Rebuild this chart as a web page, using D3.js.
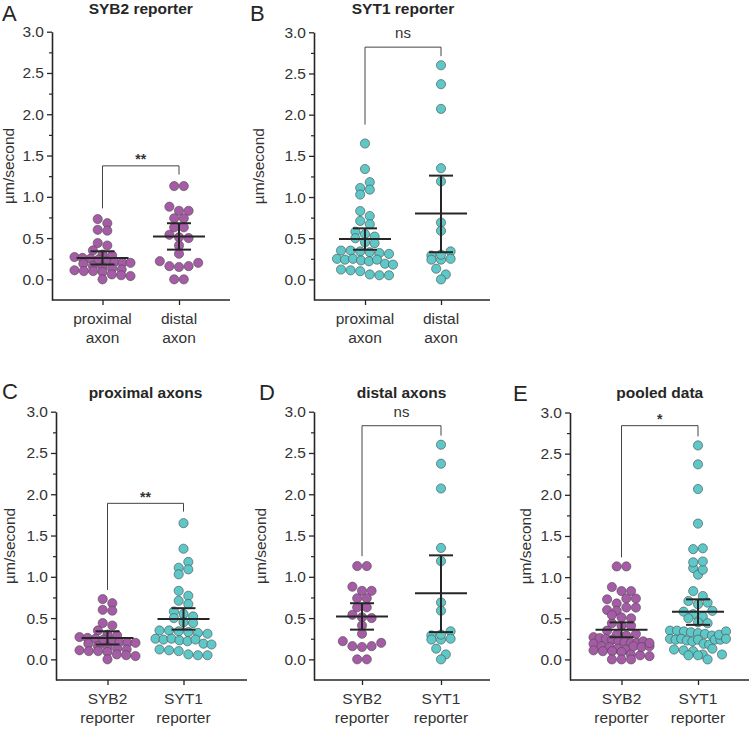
<!DOCTYPE html>
<html>
<head>
<meta charset="utf-8">
<script src="https://cdn.jsdelivr.net/npm/d3@7"></script>
<style>
  html, body { margin: 0; padding: 0; background: #fff; }
  svg { display: block; font-family: "Liberation Sans", Arial, Helvetica, sans-serif; }
</style>
</head>
<body>
<svg id="chart" width="749" height="729"></svg>
<script>
// ---------------- data (µm/second) ----------------
const proxSYB2 = [0.73, 0.68, 0.60, 0.59, 0.44, 0.41, 0.35, 0.30, 0.29, 0.27, 0.26, 0.25,
                  0.24, 0.22, 0.21, 0.20, 0.20, 0.19, 0.16, 0.15, 0.13, 0.12, 0.11, 0.10,
                  0.10, 0.09, 0.06, 0.05, 0.04, 0.00];
const distSYB2 = [1.13, 1.13, 0.88, 0.83, 0.83, 0.74, 0.74, 0.63, 0.63, 0.54, 0.51, 0.50,
                  0.41, 0.31, 0.22, 0.16, 0.15, 0.16, 0.20, 0.00, 0.00];
const proxSYT1 = [1.65, 1.34, 1.11, 1.18, 1.03, 1.09, 0.83, 0.77, 0.71, 0.67, 0.58, 0.55,
                  0.52, 0.50, 0.45, 0.44, 0.35, 0.35, 0.34, 0.33, 0.32, 0.31, 0.25, 0.24,
                  0.25, 0.23, 0.22, 0.24, 0.19, 0.18, 0.12, 0.11, 0.10, 0.06, 0.05, 0.05];
const distSYT1 = [2.60, 2.37, 2.07, 1.35, 1.19, 0.69, 0.59, 0.29, 0.24, 0.24, 0.30, 0.34,
                  0.25, 0.13, 0.06, 0.00];
const pooledSYB2 = proxSYB2.concat(distSYB2);
const pooledSYT1 = proxSYT1.concat(distSYT1);

// mean, lower CI, upper CI
const statsProxSYB2 = [0.26, 0.18, 0.34];
const statsDistSYB2 = [0.52, 0.36, 0.68];
const statsProxSYT1 = [0.49, 0.36, 0.62];
const statsDistSYT1 = [0.80, 0.33, 1.26];
const statsPooledSYB2 = [0.36, 0.27, 0.45];
const statsPooledSYT1 = [0.58, 0.42, 0.73];

// significance brackets: [bar level, left leg end, right leg end]
const bracketA = [1.375, 0.86, 1.27];
const bracketB = [2.82, 1.88, 2.71];
const bracketC = [1.89, 0.84, 1.79];
const bracketD = [2.83, 1.25, 2.71];
const bracketE = [2.84, 1.24, 2.71];

const yTicks = [0.0, 0.5, 1.0, 1.5, 2.0, 2.5, 3.0];
const yMinorTicks = [0.25, 0.75, 1.25, 1.75, 2.25, 2.75];
const yDomain = [-0.25, 3.0];

const catsAxon = ["proximal\naxon", "distal\naxon"];
const catsReporter = ["SYB2\nreporter", "SYT1\nreporter"];

const colSYB2 = "#a65ba6";
const colSYT1 = "#5ec7c7";

// ---------------- layout ----------------
const panels = [
  { letter: "A", title: "SYB2 reporter", cats: catsAxon, data: [proxSYB2, distSYB2],
    stats: [statsProxSYB2, statsDistSYB2], colors: [colSYB2, colSYB2], bracket: bracketA, sig: "**",
    left: 52, right: 230, top: 31.7, bottom: 300, cx: [102.5, 179], letterX: 2, letterY: 21,
    titleY: 14, ylabX: 14 },
  { letter: "B", title: "SYT1 reporter", cats: catsAxon, data: [proxSYT1, distSYT1],
    stats: [statsProxSYT1, statsDistSYT1], colors: [colSYT1, colSYT1], bracket: bracketB, sig: "ns",
    left: 314, right: 490, top: 32.3, bottom: 300, cx: [365, 441], letterX: 250, letterY: 21,
    titleY: 14, ylabX: 264 },
  { letter: "C", title: "proximal axons", cats: catsReporter, data: [proxSYB2, proxSYT1],
    stats: [statsProxSYB2, statsProxSYT1], colors: [colSYB2, colSYT1], bracket: bracketC, sig: "**",
    left: 56, right: 247, top: 411.7, bottom: 680, cx: [107.5, 183.5], letterX: 2, letterY: 399,
    titleY: 398, ylabX: 15 },
  { letter: "D", title: "distal axons", cats: catsReporter, data: [distSYB2, distSYT1],
    stats: [statsDistSYB2, statsDistSYT1], colors: [colSYB2, colSYT1], bracket: bracketD, sig: "ns",
    left: 314, right: 490, top: 411.7, bottom: 680, cx: [362, 441], letterX: 259, letterY: 400,
    titleY: 398, ylabX: 266 },
  { letter: "E", title: "pooled data", cats: catsReporter, data: [pooledSYB2, pooledSYT1],
    stats: [statsPooledSYB2, statsPooledSYT1], colors: [colSYB2, colSYT1], bracket: bracketE, sig: "*",
    left: 570, right: 760, top: 412.5, bottom: 680, cx: [621.5, 698], letterX: 513, letterY: 401,
    titleY: 398, ylabX: 531 }
];

const R = 4.6;       // symbol radius
const BIN = 6;       // row height in px for the scatter layout
const STEP = 9.6;    // horizontal spacing of symbols within a row
const MAXHALF = 28;  // widest half-width of a row
const INK = "#262626";

// Prism-like scatter: points that fall in the same row are spread side by side, centred
function rowLayout(ys) {
  const order = ys.map((y, i) => i).sort((a, b) => ys[a] - ys[b] || a - b);
  const xs = new Array(ys.length).fill(0);
  let k = 0;
  while (k < order.length) {
    const start = ys[order[k]];
    const row = [];
    while (k < order.length && ys[order[k]] - start < BIN) { row.push(order[k]); k++; }
    row.sort((a, b) => a - b);
    const step = row.length > 1 ? Math.min(STEP, 2 * MAXHALF / (row.length - 1)) : 0;
    row.forEach((idx, j) => { xs[idx] = (j - (row.length - 1) / 2) * step; });
  }
  return xs;
}

const svg = d3.select("#chart");

panels.forEach(p => {
  const g = svg.append("g");
  const y = d3.scaleLinear().domain(yDomain).range([p.bottom, p.top]);
  const x = d3.scalePoint().domain(p.cats).range(p.cx);

  // panel letter
  g.append("text").attr("x", p.letterX).attr("y", p.letterY)
    .attr("font-size", 22).attr("fill", INK).text(p.letter);
  // title
  g.append("text").attr("x", (p.cx[0] + p.cx[1]) / 2).attr("y", p.titleY)
    .attr("text-anchor", "middle").attr("font-size", 15.5).attr("font-weight", "bold")
    .attr("fill", INK).text(p.title);

  // y axis
  const yAxis = g.append("g").attr("transform", `translate(${p.left},0)`)
    .call(d3.axisLeft(y).tickValues(yTicks).tickFormat(d3.format(".1f"))
      .tickSize(5).tickSizeOuter(0).tickPadding(3));
  yAxis.selectAll("text").attr("font-size", 15.5).attr("fill", "#333").attr("font-family", null);
  yAxis.selectAll("line").attr("stroke", INK).attr("stroke-width", 1.3);
  yAxis.select(".domain").attr("stroke", INK).attr("stroke-width", 1.6);
  g.append("g").attr("transform", `translate(${p.left},0)`)
    .call(d3.axisLeft(y).tickValues(yMinorTicks).tickFormat("").tickSize(3).tickSizeOuter(0))
    .call(a => a.select(".domain").remove())
    .selectAll("line").attr("stroke", INK).attr("stroke-width", 1.2);

  // y label
  g.append("text")
    .attr("transform", `translate(${p.ylabX},${(p.top + p.bottom) / 2}) rotate(-90)`)
    .attr("text-anchor", "middle").attr("font-size", 15.5).attr("fill", "#333")
    .text("µm/second");

  // x axis
  const xAxis = g.append("g").attr("transform", `translate(0,${p.bottom})`)
    .call(d3.axisBottom(x).tickSize(5).tickSizeOuter(0).tickFormat(""));
  xAxis.select(".domain").remove();
  xAxis.selectAll("line").attr("stroke", INK).attr("stroke-width", 1.3);
  g.append("line").attr("x1", p.left).attr("x2", p.right)
    .attr("y1", p.bottom).attr("y2", p.bottom)
    .attr("stroke", INK).attr("stroke-width", 1.6);
  p.cats.forEach(c => {
    const lines = c.split("\n");
    const t = g.append("text").attr("x", x(c)).attr("y", p.bottom + 24)
      .attr("text-anchor", "middle").attr("font-size", 15.5).attr("fill", "#333");
    lines.forEach((ln, i) => t.append("tspan").attr("x", x(c)).attr("dy", i === 0 ? 0 : 19).text(ln));
  });

  // points
  p.data.forEach((vals, gi) => {
    const cx = x(p.cats[gi]);
    const ys = vals.map(v => y(v));
    const xs = rowLayout(ys);
    g.append("g").selectAll("circle").data(vals).join("circle")
      .attr("cx", (d, i) => cx + xs[i]).attr("cy", d => y(d)).attr("r", R)
      .attr("fill", p.colors[gi]).attr("stroke", "#4a4a4a").attr("stroke-width", 0.6);
  });

  // mean and CI
  p.stats.forEach((s, gi) => {
    const cx = x(p.cats[gi]);
    const sg = g.append("g").attr("stroke", INK).attr("stroke-width", 2);
    sg.append("line").attr("x1", cx - 26).attr("x2", cx + 26).attr("y1", y(s[0])).attr("y2", y(s[0]));
    sg.append("line").attr("x1", cx).attr("x2", cx).attr("y1", y(s[1])).attr("y2", y(s[2]));
    sg.append("line").attr("x1", cx - 12).attr("x2", cx + 12).attr("y1", y(s[1])).attr("y2", y(s[1]));
    sg.append("line").attr("x1", cx - 12).attr("x2", cx + 12).attr("y1", y(s[2])).attr("y2", y(s[2]));
  });

  // significance bracket
  const x0 = x(p.cats[0]), x1 = x(p.cats[1]);
  g.append("path")
    .attr("d", `M${x0},${y(p.bracket[1])}V${y(p.bracket[0])}H${x1}V${y(p.bracket[2])}`)
    .attr("fill", "none").attr("stroke", "#444").attr("stroke-width", 1);
  const isNs = p.sig === "ns";
  g.append("text").attr("x", (x0 + x1) / 2)
    .attr("y", y(p.bracket[0]) - (isNs ? 9 : 1.5))
    .attr("text-anchor", "middle").attr("font-size", isNs ? 15 : 14)
    .attr("font-weight", isNs ? "normal" : "bold")
    .attr("fill", "#333").text(p.sig);
});
</script>
</body>
</html>
